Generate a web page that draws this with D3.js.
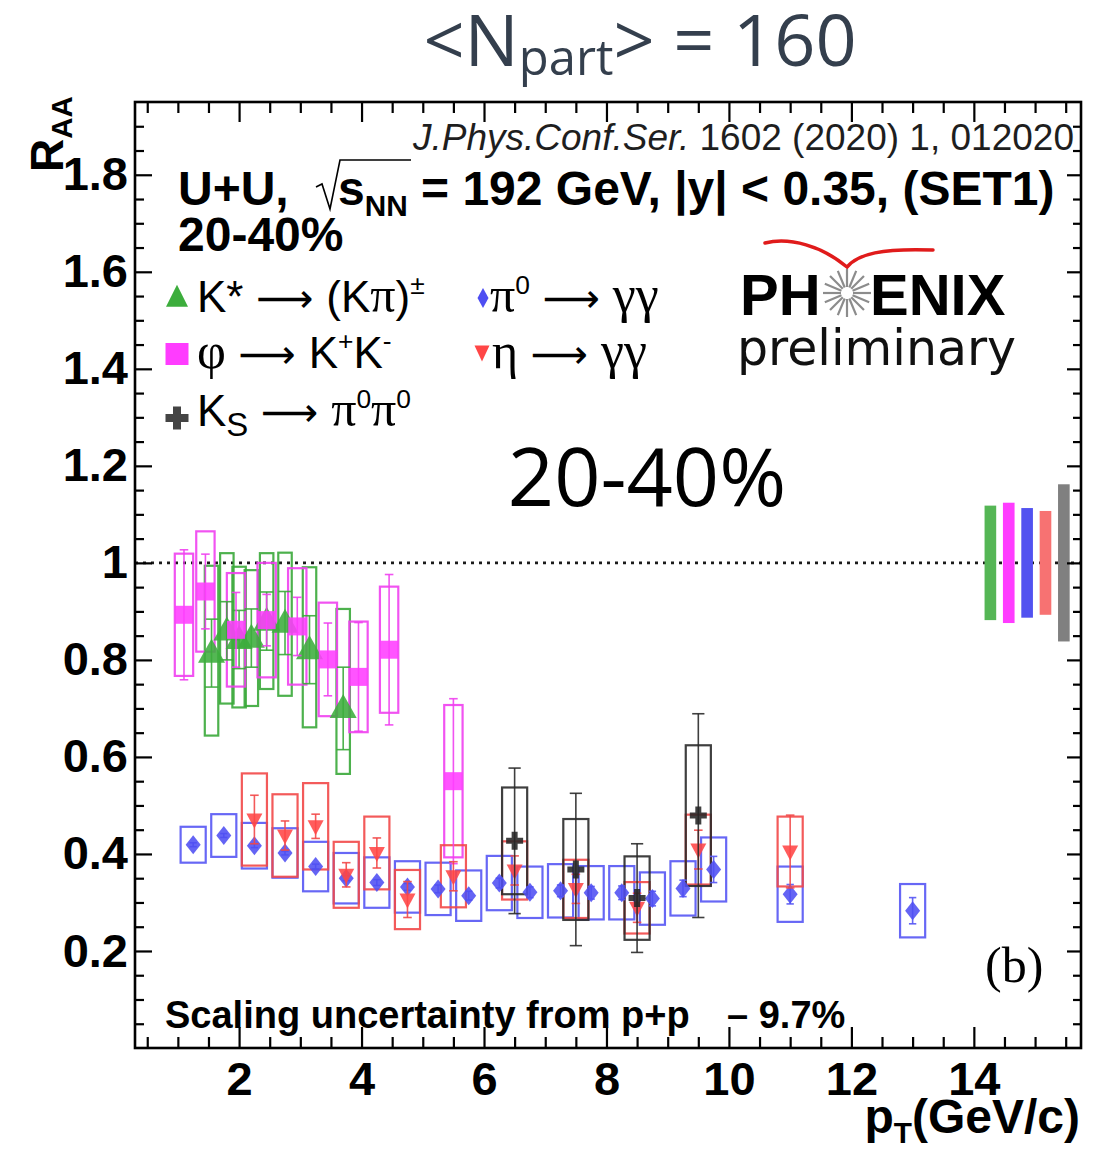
<!DOCTYPE html>
<html>
<head>
<meta charset="utf-8">
<script src="https://cdn.jsdelivr.net/npm/d3@7"></script>
<style>
  html, body { margin: 0; padding: 0; background: #fff; }
  svg { display: block; }
</style>
</head>
<body>
<script>
// ---------- R_AA vs pT, U+U 192 GeV, 20-40% centrality ----------

// K*(892) -> (K pi)±
const kstarPt    = [1.55, 1.8, 2.0, 2.2, 2.45, 2.75, 3.15, 3.7];
const kstarRaa   = [0.814, 0.86, 0.842, 0.845, 0.88, 0.876, 0.821, 0.70];
const kstarStat  = [0.07, 0.06, 0.06, 0.06, 0.06, 0.065, 0.07, 0.085];
const kstarSysUp = [0.18, 0.16, 0.15, 0.14, 0.14, 0.145, 0.17, 0.205];
const kstarSysDn = [0.17, 0.15, 0.14, 0.14, 0.14, 0.15, 0.16, 0.135];

// phi -> K+ K-
const phiPt   = [1.1, 1.45, 1.95, 2.45, 2.95, 3.45, 3.95, 4.45, 5.5];
const phiRaa  = [0.893, 0.941, 0.862, 0.882, 0.869, 0.801, 0.765, 0.821, 0.550];
const phiStat = [0.134, 0.077, 0.077, 0.053, 0.06, 0.075, 0.112, 0.155, 0.17];
const phiSys  = [0.126, 0.124, 0.117, 0.118, 0.12, 0.117, 0.114, 0.13, 0.157];

// pi0 -> gamma gamma
const pi0Pt   = [1.25, 1.75, 2.25, 2.75, 3.25, 3.75, 4.25, 4.75, 5.25, 5.75,
                 6.25, 6.75, 7.25, 7.75, 8.25, 8.75, 9.25, 9.75, 11, 13];
const pi0Raa  = [0.419, 0.438, 0.417, 0.402, 0.374, 0.350, 0.341, 0.332, 0.328, 0.314,
                 0.340, 0.321, 0.324, 0.320, 0.320, 0.308, 0.329, 0.368, 0.317, 0.283];
const pi0Stat = [0.004, 0.004, 0.004, 0.004, 0.005, 0.005, 0.006, 0.007, 0.008, 0.009,
                 0.010, 0.011, 0.012, 0.013, 0.014, 0.015, 0.017, 0.027, 0.02, 0.027];
const pi0Sys  = [0.037, 0.044, 0.047, 0.051, 0.051, 0.052, 0.052, 0.053, 0.054, 0.052,
                 0.056, 0.053, 0.055, 0.055, 0.055, 0.054, 0.056, 0.066, 0.057, 0.055];

// eta -> gamma gamma
const etaPt   = [2.25, 2.75, 3.25, 3.75, 4.25, 4.75, 5.5, 6.5, 7.5, 8.5, 9.5, 11];
const etaRaa  = [0.471, 0.438, 0.457, 0.357, 0.402, 0.306, 0.354, 0.366, 0.328, 0.289, 0.409, 0.405];
const etaStat = [0.05, 0.03, 0.025, 0.025, 0.031, 0.037, 0.03, 0.03, 0.03, 0.03, 0.04, 0.075];
const etaSys  = [0.095, 0.085, 0.089, 0.068, 0.075, 0.061, 0.064, 0.06, 0.06, 0.053, 0.072, 0.072];

// K_S -> pi0 pi0
const ksPt   = [6.5, 7.5, 8.5, 9.5];
const ksRaa  = [0.427, 0.368, 0.309, 0.479];
const ksStat = [0.15, 0.157, 0.112, 0.21];
const ksSys  = [0.11, 0.104, 0.086, 0.145];

// global normalisation uncertainties at R_AA = 1 (K*, phi, pi0, eta, K_S)
const globalUnc = [0.118, 0.124, 0.113, 0.107, 0.162];

// axis ticks
const xMajor = [2, 4, 6, 8, 10, 12, 14];
const yMajor = [0.2, 0.4, 0.6, 0.8, 1.0, 1.2, 1.4, 1.6, 1.8];

// ---------- drawing ----------
const W = 1109, H = 1149;
const SANS = "'Liberation Sans', Arial, Helvetica, sans-serif";
const SERIF = "'Liberation Serif', 'Times New Roman', serif";
const ARROW = "'DejaVu Sans', sans-serif";

const svg = d3.select("body").append("svg")
  .attr("width", W).attr("height", H)
  .attr("viewBox", `0 0 ${W} ${H}`);
svg.append("rect").attr("width", W).attr("height", H).attr("fill", "#fff");

const x = d3.scaleLinear().domain([0.3, 15.75]).range([135, 1081]);
const y = d3.scaleLinear().domain([0, 1.95]).range([1048, 102]);

// text with sub/superscript pieces
function rich(parent, px, py, parts, o) {
  const t = parent.append("text")
    .attr("x", px).attr("y", py)
    .attr("font-size", o.size)
    .attr("font-family", o.family || SANS)
    .attr("font-weight", o.weight || "normal")
    .attr("font-style", o.style || "normal")
    .attr("fill", o.fill || "#000")
    .attr("text-anchor", o.anchor || "start")
    .style("white-space", "pre");
  if (o.transform) t.attr("transform", o.transform);
  let cur = 0;
  parts.forEach(p => {
    const small = p.sub || p.sup;
    const s = small ? (p.rel || 0.68) * o.size : (p.size || o.size);
    const target = p.sub ? o.size * (p.shift || 0.22) : p.sup ? -o.size * (p.shift || 0.4) : 0;
    const ts = t.append("tspan").attr("font-size", s).attr("dy", target - cur).text(p.t);
    cur = target;
    if (p.family) ts.attr("font-family", p.family);
    if (p.style) ts.attr("font-style", p.style);
    if (p.weight) ts.attr("font-weight", p.weight);
    if (p.dx) ts.attr("dx", p.dx);
  });
  return t;
}

// marker shapes (pixel sizes)
const shapes = {
  triUp: (w, h) => `M0,${-h * 0.6}L${w / 2},${h * 0.4}L${-w / 2},${h * 0.4}Z`,
  triDown: (w, h) => `M0,${h * 0.6}L${w / 2},${-h * 0.4}L${-w / 2},${-h * 0.4}Z`,
  square: (w, h) => `M${-w / 2},${-h / 2}h${w}v${h}h${-w}Z`,
  diamond: (w, h) => `M0,${-h / 2}L${w / 2},0L0,${h / 2}L${-w / 2},0Z`,
  cross: (w, h, a) => `M${-a / 2},${-h / 2}h${a}v${h / 2 - a / 2}h${w / 2 - a / 2}v${a}h${-(w / 2 - a / 2)}v${h / 2 - a / 2}h${-a}v${-(h / 2 - a / 2)}h${-(w / 2 - a / 2)}v${-a}h${w / 2 - a / 2}Z`
};

const series = [
  { pt: kstarPt, v: kstarRaa, stat: kstarStat, up: kstarSysUp, dn: kstarSysDn,
    box: 0.11, cap: 0.11, stroke: "#3aa83a", fill: "#3cad3c", shape: "triUp", w: 27, h: 24 },
  { pt: phiPt, v: phiRaa, stat: phiStat, up: phiSys, dn: phiSys,
    box: 0.15, cap: 0.07, stroke: "#f040f0", fill: "#ff3cff", shape: "square", w: 18, h: 18 },
  { pt: pi0Pt, v: pi0Raa, stat: pi0Stat, up: pi0Sys, dn: pi0Sys,
    box: 0.205, cap: 0.06, stroke: "#5656f4", fill: "#4e4ef2", shape: "diamond", w: 15, h: 19 },
  { pt: etaPt, v: etaRaa, stat: etaStat, up: etaSys, dn: etaSys,
    box: 0.205, cap: 0.07, stroke: "#f24848", fill: "#ff4646", shape: "triDown", w: 16, h: 15 },
  { pt: ksPt, v: ksRaa, stat: ksStat, up: ksSys, dn: ksSys,
    box: 0.205, cap: 0.1, stroke: "#2a2a2a", fill: "#262626", shape: "cross", w: 17, h: 18, arm: 6 }
];

const plot = svg.append("g");

// unity reference line
plot.append("line")
  .attr("x1", x(0.3)).attr("x2", x(15.75))
  .attr("y1", y(1)).attr("y2", y(1))
  .attr("stroke", "#1a1a1a").attr("stroke-width", 2.6)
  .attr("stroke-dasharray", "3,5");

// systematic boxes
series.forEach(s => {
  plot.append("g").selectAll("rect")
    .data(s.pt.map((p, i) => ({ p, v: s.v[i], up: s.up[i], dn: s.dn[i] })))
    .join("rect")
    .attr("x", d => x(d.p - s.box))
    .attr("width", d => x(d.p + s.box) - x(d.p - s.box))
    .attr("y", d => y(d.v + d.up))
    .attr("height", d => y(d.v - d.dn) - y(d.v + d.up))
    .attr("fill", "none")
    .attr("stroke", s.stroke).attr("stroke-width", 2.2)
    .attr("stroke-opacity", 0.9);
});

// statistical error bars and markers
series.forEach(s => {
  const pts = s.pt.map((p, i) => ({ p, v: s.v[i], e: s.stat[i] }));
  const g = plot.append("g");
  const eb = g.append("g").attr("stroke", s.stroke).attr("stroke-width", 1.6).attr("stroke-opacity", 0.9);
  eb.selectAll(".v").data(pts).join("line")
    .attr("x1", d => x(d.p)).attr("x2", d => x(d.p))
    .attr("y1", d => y(d.v - d.e)).attr("y2", d => y(d.v + d.e));
  ["+", "-"].forEach(sign => {
    eb.selectAll(".c" + (sign === "+" ? "u" : "d")).data(pts).join("line")
      .attr("x1", d => x(d.p - s.cap)).attr("x2", d => x(d.p + s.cap))
      .attr("y1", d => y(sign === "+" ? d.v + d.e : d.v - d.e))
      .attr("y2", d => y(sign === "+" ? d.v + d.e : d.v - d.e));
  });
  g.selectAll("path").data(pts).join("path")
    .attr("transform", d => `translate(${x(d.p)},${y(d.v)})`)
    .attr("d", shapes[s.shape](s.w, s.h, s.arm))
    .attr("fill", s.fill).attr("fill-opacity", 0.88);
});

// global normalisation bars at unity
const globalColors = ["#55b655", "#ff3cff", "#5252f0", "#f77272", "#808080"];
plot.append("g").selectAll("rect")
  .data(globalUnc.map((u, i) => ({ u, p: 14.27 + 0.3 * i, c: globalColors[i] })))
  .join("rect")
  .attr("x", d => x(d.p - 0.095))
  .attr("width", d => x(d.p + 0.095) - x(d.p - 0.095))
  .attr("y", d => y(1 + d.u))
  .attr("height", d => y(1 - d.u) - y(1 + d.u))
  .attr("fill", d => d.c);

// frame
svg.append("rect")
  .attr("x", x(0.3)).attr("y", y(1.95))
  .attr("width", x(15.75) - x(0.3)).attr("height", y(0) - y(1.95))
  .attr("fill", "none").attr("stroke", "#000").attr("stroke-width", 2.6);

// axes
function styleAxis(g) {
  g.select(".domain").remove();
  g.selectAll(".tick line").attr("stroke", "#000").attr("stroke-width", 2.2);
  g.selectAll("text").attr("font-family", SANS).attr("font-weight", "bold")
    .attr("font-size", 47).attr("fill", "#000");
}
const xMinor = d3.range(0.5, 15.6, 0.5).filter(v => !xMajor.includes(v));
const yMinor = d3.range(0.05, 1.94, 0.05).map(v => +v.toFixed(2)).filter(v => !yMajor.some(m => Math.abs(m - v) < 1e-6));

svg.append("g").attr("transform", `translate(0,${y(0)})`)
  .call(d3.axisBottom(x).tickValues(xMinor).tickSize(-11).tickFormat(""))
  .call(styleAxis);
svg.append("g").attr("transform", `translate(0,${y(0)})`)
  .call(d3.axisBottom(x).tickValues(xMajor).tickSize(-21).tickPadding(14).tickFormat(d3.format("d")))
  .call(styleAxis);
svg.append("g").attr("transform", `translate(0,${y(1.95)})`)
  .call(d3.axisTop(x).tickValues(xMinor).tickSize(-11).tickFormat(""))
  .call(styleAxis);
svg.append("g").attr("transform", `translate(0,${y(1.95)})`)
  .call(d3.axisTop(x).tickValues(xMajor).tickSize(-20).tickFormat(""))
  .call(styleAxis);

svg.append("g").attr("transform", `translate(${x(0.3)},0)`)
  .call(d3.axisLeft(y).tickValues(yMinor).tickSize(-9).tickFormat(""))
  .call(styleAxis);
svg.append("g").attr("transform", `translate(${x(0.3)},0)`)
  .call(d3.axisLeft(y).tickValues(yMajor).tickSize(-17).tickPadding(7)
    .tickFormat(d => d === 1 ? "1" : d3.format(".1f")(d)))
  .call(styleAxis);
svg.append("g").attr("transform", `translate(${x(15.75)},0)`)
  .call(d3.axisRight(y).tickValues(yMinor).tickSize(-8).tickFormat(""))
  .call(styleAxis);
svg.append("g").attr("transform", `translate(${x(15.75)},0)`)
  .call(d3.axisRight(y).tickValues(yMajor).tickSize(-14).tickFormat(""))
  .call(styleAxis);

// axis titles
rich(svg, 0, 0, [{ t: "R" }, { t: "AA", sub: true, rel: 0.64, shift: 0.2 }],
  { size: 46, weight: "bold", transform: "translate(63,172) rotate(-90)" });
rich(svg, 1080, 1133, [{ t: "p" }, { t: "T", sub: true, rel: 0.62, shift: 0.2 }, { t: "(GeV/c)" }],
  { size: 48, weight: "bold", anchor: "end" });

// title
rich(svg, 640, 66, [{ t: "<N" }, { t: "part", sub: true, rel: 0.68, shift: 0.12 }, { t: "> = 160" }],
  { size: 72, family: "'Open Sans', 'Noto Sans', sans-serif", fill: "#343f4d", anchor: "middle" });

// reference
rich(svg, 413, 150, [{ t: "J.Phys.Conf.Ser.", style: "italic" }, { t: " 1602 (2020) 1, 012020" }],
  { size: 37, fill: "#1e1e1e" });

// system header
rich(svg, 178, 205, [{ t: "U+U," }], { size: 48, weight: "bold" });
svg.append("path")
  .attr("d", "M316,187 L322,184 L330,209 L340,160 L411,160")
  .attr("fill", "none").attr("stroke", "#000").attr("stroke-width", 1.6);
rich(svg, 338, 205, [{ t: "s" }, { t: "NN", sub: true, rel: 0.62, shift: 0.22 },
  { t: " = 192 GeV, |y| < 0.35, (SET1)" }], { size: 48, weight: "bold" });
rich(svg, 178, 251, [{ t: "20-40%" }], { size: 48, weight: "bold" });

// legend
const leg = svg.append("g");
const legFont = { size: 44 };
const arrow = { t: " ⟶ ", family: ARROW, size: 40 };
leg.append("path").attr("transform", "translate(177,298)").attr("d", shapes.triUp(22, 22)).attr("fill", "#3cad3c");
rich(leg, 197, 312, [{ t: "K*" }, arrow, { t: "(K" },
  { t: "π", family: SERIF, size: 50 }, { t: ")" }, { t: "±", sup: true, rel: 0.6, shift: 0.42 }], legFont);
leg.append("path").attr("transform", "translate(177,354)").attr("d", shapes.square(23, 22)).attr("fill", "#ff3cff");
rich(leg, 197, 368, [{ t: "φ", family: SERIF, size: 50 }, arrow, { t: "K" },
  { t: "+", sup: true, rel: 0.6, shift: 0.42 }, { t: "K" }, { t: "-", sup: true, rel: 0.6, shift: 0.42 }], legFont);
leg.append("path").attr("transform", "translate(177,418)").attr("d", shapes.cross(23, 23, 8)).attr("fill", "#444");
rich(leg, 197, 426, [{ t: "K" }, { t: "S", sub: true, rel: 0.75, shift: 0.22 }, arrow,
  { t: "π", family: SERIF, size: 50 }, { t: "0", sup: true, rel: 0.6, shift: 0.42 },
  { t: "π", family: SERIF, size: 50 }, { t: "0", sup: true, rel: 0.6, shift: 0.42 }], legFont);
leg.append("path").attr("transform", "translate(483,298)").attr("d", shapes.diamond(11, 20)).attr("fill", "#4e4ef2");
rich(leg, 490, 312, [{ t: "π", family: SERIF, size: 50 }, { t: "0", sup: true, rel: 0.6, shift: 0.42 },
  arrow, { t: "γγ", family: SERIF, size: 52 }], legFont);
leg.append("path").attr("transform", "translate(482,352)").attr("d", shapes.triDown(15, 16)).attr("fill", "#ff4646");
rich(leg, 492, 368, [{ t: "η", family: SERIF, size: 50 }, arrow, { t: "γγ", family: SERIF, size: 52 }], legFont);

// experiment logo
const logo = svg.append("g");
logo.append("path")
  .attr("d", "M765,243 C790,237 822,246 847,267 C858,254 882,248 933,250")
  .attr("fill", "none").attr("stroke", "#e01b1b").attr("stroke-width", 3.5)
  .attr("stroke-linecap", "round");
rich(logo, 740, 315, [{ t: "PH" }], { size: 58, weight: "bold" });
rich(logo, 870, 315, [{ t: "ENIX" }], { size: 58, weight: "bold" });
const spokes = d3.range(16).map(i => i * Math.PI / 8);
logo.append("g").attr("transform", "translate(847,293)")
  .selectAll("line").data(spokes).join("line")
  .attr("x1", a => 6 * Math.cos(a)).attr("y1", a => 6 * Math.sin(a))
  .attr("x2", a => 24 * Math.cos(a)).attr("y2", a => 24 * Math.sin(a))
  .attr("stroke", "#8c8c8c").attr("stroke-width", 2.2);
rich(logo, 737, 365, [{ t: "preliminary" }], { size: 49, family: "'DejaVu Sans', sans-serif", fill: "#111" });

// centrality label
rich(svg, 647, 506, [{ t: "20-40%" }], { size: 81, family: "'Open Sans', 'Noto Sans', sans-serif", anchor: "middle" });

// panel tag
rich(svg, 985, 982, [{ t: "(b)" }], { size: 50, family: SERIF });

// scaling uncertainty note
rich(svg, 165, 1028, [{ t: "Scaling uncertainty from p+p" }], { size: 38, weight: "bold" });
rich(svg, 727, 1028, [{ t: "– 9.7%" }], { size: 38, weight: "bold" });
</script>
</body>
</html>
